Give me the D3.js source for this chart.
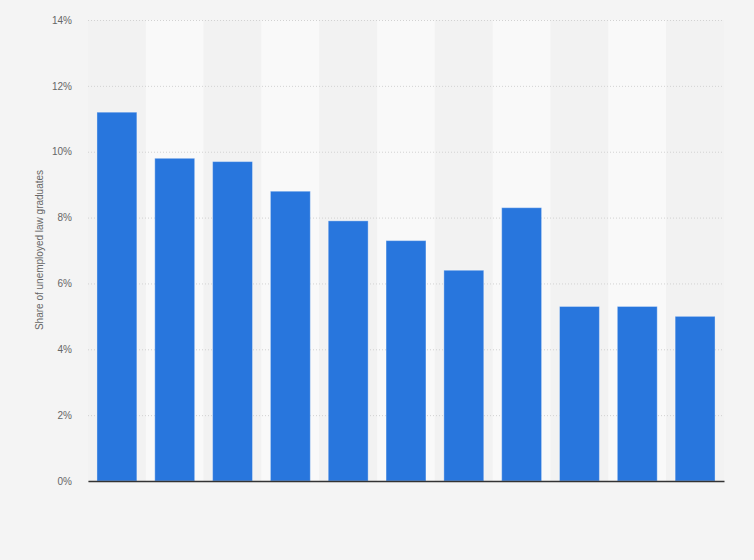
<!DOCTYPE html>
<html>
<head>
<meta charset="utf-8">
<script src="https://cdn.jsdelivr.net/npm/d3@7"></script>
<style>
  body { margin: 0; background: #f4f4f4; }
  svg { display: block; font-family: "Liberation Sans", Arial, sans-serif; }
</style>
</head>
<body>
<svg width="754" height="560"></svg>
<script>
// class years (not shown as labels in the original)
var years = ["2011", "2012", "2013", "2014", "2015", "2016", "2017", "2018", "2019", "2020", "2021"];
var unemployed = [11.2, 9.8, 9.7, 8.8, 7.9, 7.3, 6.4, 8.3, 5.3, 5.3, 5.0];
var yTicks = [0, 2, 4, 6, 8, 10, 12, 14];

var svg = d3.select("svg"),
    plotLeft = 88, plotRight = 724, plotTop = 20, plotBottom = 481;

var xScale = d3.scaleBand().domain(years).range([plotLeft, plotRight]).paddingInner(0.31).paddingOuter(0.155),
    bandScale = d3.scaleBand().domain(years).range([plotLeft, plotRight]),
    yScale = d3.scaleLinear().domain([0, 14]).range([plotBottom, plotTop]);

// alternating column shading
svg.append("g").selectAll("rect")
  .data(years)
  .enter().append("rect")
  .attr("x", function(d) { return bandScale(d); })
  .attr("y", plotTop)
  .attr("width", bandScale.bandwidth())
  .attr("height", plotBottom - plotTop)
  .attr("fill", function(d, i) { return i % 2 ? "#f9f9f9" : "#f2f2f2"; });

// y axis, grid lines
var yAxis = svg.append("g")
  .attr("transform", "translate(" + plotLeft + ",0)")
  .call(d3.axisLeft(yScale).tickValues(yTicks)
    .tickSize(-(plotRight - plotLeft))
    .tickPadding(16)
    .tickFormat(function(d) { return d + "%"; }));

yAxis.select(".domain").remove();
yAxis.selectAll(".tick line")
  .attr("stroke", "#d2d2d2")
  .attr("stroke-dasharray", "1,2");
yAxis.selectAll(".tick text")
  .attr("fill", "#666")
  .attr("font-size", "10px");

svg.append("text")
  .attr("transform", "translate(43,250) rotate(-90)")
  .attr("text-anchor", "middle")
  .attr("font-size", "10px")
  .attr("fill", "#666")
  .text("Share of unemployed law graduates");

svg.selectAll(".bar")
  .data(unemployed)
  .enter().append("rect")
  .attr("class", "bar")
  .attr("x", function(d, i) { return xScale(years[i]); })
  .attr("y", function(d) { return yScale(d); })
  .attr("width", xScale.bandwidth())
  .attr("height", function(d) { return plotBottom - yScale(d); })
  .attr("fill", "#2876dd")
  .attr("stroke", "rgba(255,255,255,0.35)")
  .attr("stroke-width", 1);

// baseline
svg.append("g")
  .attr("transform", "translate(0," + plotBottom + ")")
  .call(d3.axisBottom(xScale).tickSize(0).tickFormat(""))
  .select(".domain")
  .attr("stroke", "#333")
  .attr("stroke-width", 1.5);
</script>
</body>
</html>
